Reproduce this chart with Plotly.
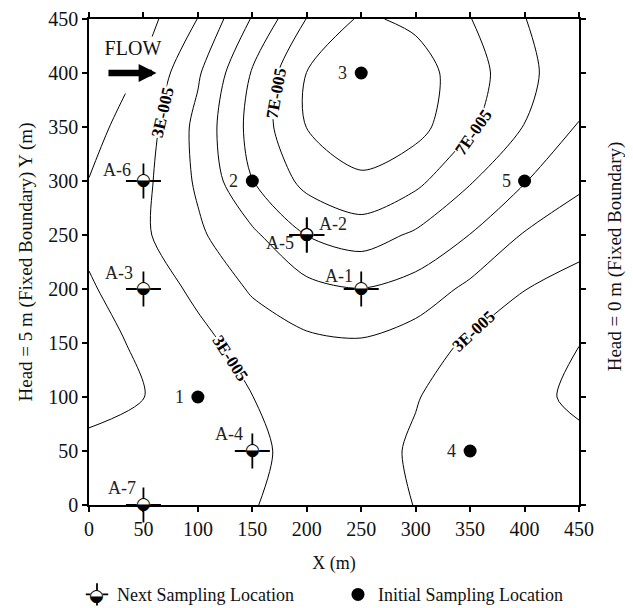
import plotly.graph_objects as go

# ---------------- data ----------------
x_grid = [0, 50, 100, 150, 200, 250, 300, 350, 400, 450]
y_grid = [0, 50, 100, 150, 200, 250, 300, 350, 400, 450]
conc_y0   = [2.30, 2.50, 2.75, 2.96, 3.30, 3.35, 2.98, 2.70, 2.45, 2.30]
conc_y50  = [2.15, 2.35, 2.70, 2.85, 3.25, 3.30, 2.90, 2.60, 2.35, 2.20]
conc_y100 = [1.80, 1.99, 2.50, 2.99, 3.45, 3.50, 3.04, 2.62, 2.22, 1.85]
conc_y150 = [1.60, 2.19, 2.76, 3.35, 3.80, 3.90, 3.50, 2.85, 2.40, 2.01]
conc_y200 = [1.90, 2.52, 3.18, 4.12, 4.70, 4.98, 4.60, 3.77, 3.02, 2.60]
conc_y250 = [2.20, 2.85, 3.83, 4.81, 6.02, 6.45, 5.85, 4.98, 3.92, 3.40]
conc_y300 = [2.02, 2.75, 4.15, 5.98, 7.30, 7.90, 7.25, 6.08, 5.05, 4.20]
conc_y350 = [1.70, 2.50, 4.28, 6.34, 8.02, 8.40, 8.35, 7.15, 5.97, 4.97]
conc_y400 = [1.10, 2.15, 3.87, 6.09, 8.02, 8.60, 8.45, 7.43, 6.28, 5.25]
conc_y450 = [1.20, 1.60, 3.02, 5.08, 7.03, 8.15, 7.80, 7.03, 6.02, 5.40]
conc_rows = [conc_y0, conc_y50, conc_y100, conc_y150, conc_y200,
             conc_y250, conc_y300, conc_y350, conc_y400, conc_y450]
level_start, level_end, level_step = 2, 8, 1

init_x = [100, 150, 250, 350, 400]
init_y = [100, 300, 400, 50, 300]
init_labels = ["1", "2", "3", "4", "5"]

next_x = [250, 200, 50, 150, 200, 50, 50]
next_y = [200, 250, 200, 50, 250, 300, 0]
next_labels = ["A-1", "A-2", "A-3", "A-4", "A-5", "A-6", "A-7"]

# contour labels (text, x, y)
clabel_text = ["3E-005", "7E-005", "7E-005", "3E-005", "3E-005"]
clabel_x = [68, 172, 353, 130, 353]
clabel_y = [363, 381, 345, 136, 161]

tick_vals = [0, 50, 100, 150, 200, 250, 300, 350, 400, 450]

# ---------------- styles ----------------
SERIF = "Liberation Serif, Times New Roman, serif"
FS = 18
clabel_angle = [-77, -80, -55, 57, -43]
next_label_shift = {"A-1": (-22, 13), "A-2": (26, 11), "A-3": (-24, 16), "A-4": (-23, 17),
                    "A-5": (-27, -8), "A-6": (-26, 11), "A-7": (-21, 17)}
HALF = "\u25d2"   # circle with lower half black
DISC = "\u25cf"   # filled disc (white underlay)
GLYPH_FONT = "DejaVu Sans"
GLYPH_SIZE = 17

fig = go.Figure()

fig.add_trace(go.Contour(
    x=x_grid, y=y_grid, z=conc_rows,
    contours=dict(start=level_start, end=level_end, size=level_step,
                  coloring="none", showlabels=False),
    line=dict(color="black", width=1, smoothing=0.8),
    showscale=False, hoverinfo="skip", showlegend=False,
))

# Next sampling: crosshair + half-filled circle
fig.add_trace(go.Scatter(
    x=next_x, y=next_y, mode="markers", name="Next Sampling Location",
    marker=dict(symbol="cross-thin-open", size=25, color="black",
                line=dict(color="black", width=1.8)),
    cliponaxis=False,
))
fig.add_trace(go.Scatter(
    x=next_x, y=next_y, mode="text", text=[DISC] * len(next_x),
    textposition="middle center",
    textfont=dict(family=GLYPH_FONT, size=GLYPH_SIZE, color="white"),
    showlegend=False, cliponaxis=False, hoverinfo="skip",
))
fig.add_trace(go.Scatter(
    x=next_x, y=next_y, mode="text", text=[HALF] * len(next_x),
    textposition="middle center",
    textfont=dict(family=GLYPH_FONT, size=GLYPH_SIZE, color="black"),
    showlegend=False, cliponaxis=False, hoverinfo="skip",
))

fig.add_trace(go.Scatter(
    x=init_x, y=init_y, mode="markers", name="Initial Sampling Location",
    marker=dict(symbol="circle", size=13, color="black"),
    cliponaxis=False,
))

ann = []
# FLOW label with white box and arrow
ann.append(dict(x=40.6, y=407, xref="x", yref="y", text="FLOW", showarrow=False,
                font=dict(family=SERIF, size=20, color="#111"),
                width=66, height=56, valign="top", bgcolor="white", borderpad=0))
ann.append(dict(x=62, y=400, ax=16.5, ay=400, xref="x", yref="y", axref="x", ayref="y",
                text="", showarrow=True, arrowhead=2, arrowwidth=6.5, arrowsize=0.55,
                arrowcolor="black"))

for t, x, y, a in zip(clabel_text, clabel_x, clabel_y, clabel_angle):
    ann.append(dict(x=x, y=y, xref="x", yref="y", text="<b>%s</b>" % t, showarrow=False,
                    textangle=a, font=dict(family=SERIF, size=17, color="black"),
                    bgcolor="white", borderpad=0))

for t, x, y in zip(init_labels, init_x, init_y):
    ann.append(dict(x=x, y=y, xref="x", yref="y", text=t, showarrow=False,
                    xanchor="right", xshift=-12,
                    font=dict(family=SERIF, size=FS, color="#222")))

for t, x, y in zip(next_labels, next_x, next_y):
    dx, dy = next_label_shift[t]
    ann.append(dict(x=x, y=y, xref="x", yref="y", text=t, showarrow=False,
                    xshift=dx, yshift=dy,
                    font=dict(family=SERIF, size=FS, color="#222")))

ann.append(dict(x=1.0728, y=0.511, xref="paper", yref="paper", text="Head = 0 m (Fixed Boundary)",
                textangle=-90, showarrow=False, xanchor="center", yanchor="middle",
                font=dict(family=SERIF, size=19, color="#111")))

# half-filled circle over the legend symbol of "Next Sampling Location"
LEG_X, LEG_Y = -0.0245, -0.1846
for g, c in ((DISC, "white"), (HALF, "black")):
    ann.append(dict(x=0.0143, y=LEG_Y, xref="paper", yref="paper", text=g, showarrow=False,
                    xanchor="center", yanchor="middle",
                    font=dict(family=GLYPH_FONT, size=GLYPH_SIZE, color=c)))

axis_common = dict(range=[0, 450], tickvals=tick_vals, showline=True, linecolor="black",
                   linewidth=1.5, ticks="outside", ticklen=5, tickwidth=1.5, tickcolor="black",
                   mirror="ticks", showgrid=False, zeroline=False, automargin=False,
                   ticklabeloverflow="allow",
                   tickfont=dict(family=SERIF, size=20, color="#111"))

fig.update_layout(
    width=633, height=608,
    margin=dict(l=81, r=62, t=11, b=111, autoexpand=False),
    paper_bgcolor="white", plot_bgcolor="white",
    xaxis=dict(**axis_common, title=dict(text="X (m)", standoff=18,
                                         font=dict(family=SERIF, size=18, color="#111"))),
    yaxis=dict(**axis_common, title=dict(text="Head = 5 m (Fixed Boundary) Y (m)", standoff=11,
                                         font=dict(family=SERIF, size=19, color="#111"))),
    annotations=ann,
    showlegend=True,
    legend=dict(orientation="h", x=LEG_X, xanchor="left", y=LEG_Y, yanchor="middle",
                font=dict(family=SERIF, size=FS, color="#111"),
                entrywidth=216, entrywidthmode="pixels", bgcolor="rgba(0,0,0,0)"),
)

fig.write_html("out.html")
